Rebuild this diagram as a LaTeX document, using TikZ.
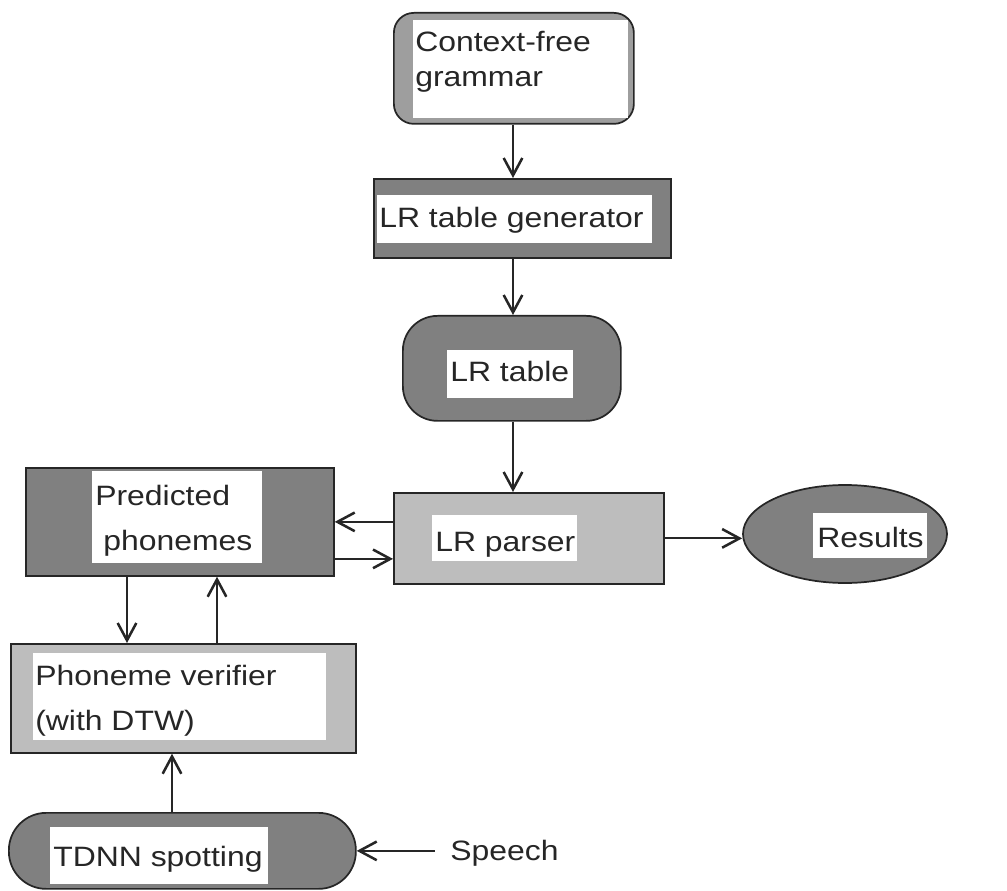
\documentclass[tikz,border=0pt]{standalone}
\usepackage{fontspec}
\setmainfont{Liberation Sans}[FakeStretch=1.14]
\usetikzlibrary{arrows.meta,shapes.geometric,calc}

\definecolor{shadeDark}{gray}{0.50}
\definecolor{shadeMid}{gray}{0.62}
\definecolor{shadeLight}{gray}{0.74}
\definecolor{ink}{gray}{0.15}

\tikzset{
  box/.style={draw=ink, line width=1.3pt, inner sep=0pt, anchor=north west},
  hole/.style={fill=white, inner sep=0pt, anchor=north west},
  txt/.style={inner sep=0pt, anchor=base west, text=ink,
              font=\fontsize{21}{25}\selectfont},
  arr/.style={draw=ink, line width=1.5pt,
              -{Straight Barb[length=13pt,width=14pt,line width=1.9pt]}},
}

\begin{document}
\begin{tikzpicture}[x=0.75pt,y=-0.75pt]
\useasboundingbox (0,0) rectangle (1007,891);

% outer shapes
\node[box, fill=shadeMid, rounded corners=15pt,
      minimum width=180pt, minimum height=83.25pt] (cfg) at (393,12) {};
\node[box, fill=shadeDark,
      minimum width=222.75pt, minimum height=59.25pt] (gen) at (373,178) {};
\node[box, fill=shadeDark, rounded corners=26pt,
      minimum width=163.5pt, minimum height=78.75pt] (tbl) at (402,315) {};
\node[box, fill=shadeDark,
      minimum width=231pt, minimum height=81pt] (pred) at (25,467) {};
\node[box, fill=shadeLight,
      minimum width=202.5pt, minimum height=68.25pt] (parser) at (393,492) {};
\node[box, ellipse, anchor=center, fill=shadeDark,
      minimum width=153pt, minimum height=73.5pt] (res) at (845,534) {};
\node[box, fill=shadeLight,
      minimum width=258.75pt, minimum height=81.75pt] (ver) at (10,643) {};
\node[box, fill=shadeDark, rounded corners=28pt,
      minimum width=260.25pt, minimum height=57pt] (tdnn) at (8,812) {};

% white label fields
\node[hole, minimum width=161.25pt, minimum height=73.5pt] (cfgW) at (413,20) {};
\node[hole, minimum width=206.25pt, minimum height=36pt] (genW) at (377,195) {};
\node[hole, minimum width=94.5pt, minimum height=36pt] (tblW) at (447,350) {};
\node[hole, minimum width=127.5pt, minimum height=69pt] (predW) at (92,471) {};
\node[hole, minimum width=108.75pt, minimum height=34.5pt] (parserW) at (432,515) {};
\node[hole, minimum width=85.5pt, minimum height=33.75pt] (resW) at (813,513) {};
\node[hole, minimum width=219.75pt, minimum height=65.25pt] (verW) at (33,653) {};
\node[hole, minimum width=163.5pt, minimum height=42.75pt] (tdnnW) at (50,827) {};

% labels
\node[txt] (cfgT1) at (415,52) {Context-free};
\node[txt] (cfgT2) at (415,87) {grammar};
\node[txt] (genT) at (379,228) {LR table generator};
\node[txt] (tblT) at (450,382) {LR table};
\node[txt] (predT1) at (95,505) {Predicted};
\node[txt] (predT2) at (103,550) {phonemes};
\node[txt] (parserT) at (435,551) {LR parser};
\node[txt] (resT) at (817,547) {Results};
\node[txt] (verT1) at (35,685) {Phoneme verifier};
\node[txt] (verT2) at (35,730) {(with DTW)};
\node[txt] (tdnnT) at (53,866) {TDNN spotting};
\node[txt] (speech) at (450,860) {Speech};

% connectors
\coordinate (cx) at (513,0);
\draw[arr] (cx |- cfg.south) -- (cx |- gen.north);
\draw[arr] (cx |- gen.south) -- (cx |- tbl.north);
\draw[arr] (cx |- tbl.south) -- (cx |- parser.north);

\draw[arr] (pred.east -| parser.west) -- (pred.east);
\coordinate (pOut) at ($(pred.east)+(0,37)$);
\draw[arr] (pOut) -- (pOut -| parser.west);

\draw[arr] (parser.east) -- (parser.east -| res.west);

\coordinate (pDown) at ($(pred.south west)+(102,0)$);
\coordinate (pUp) at ($(pred.south west)+(192,0)$);
\draw[arr] (pDown) -- (pDown |- ver.north);
\draw[arr] (pUp |- ver.north) -- (pUp);

\coordinate (tUp) at ($(tdnn.north west)+(164,0)$);
\draw[arr] (tUp) -- (tUp |- ver.south);

\coordinate (sp) at ($(tdnn.east)+(78,0)$);
\draw[arr] (sp) -- (tdnn.east);
\end{tikzpicture}
\end{document}
